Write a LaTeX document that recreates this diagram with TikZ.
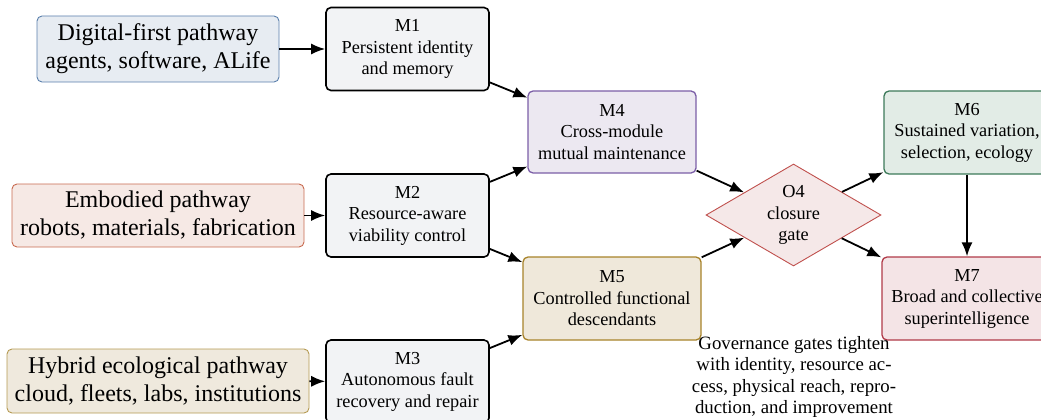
\documentclass[tikz,border=0pt]{standalone}
\usepackage{fontspec}
\setmainfont{Liberation Serif}
\usetikzlibrary{shapes.geometric,arrows.meta}
\definecolor{modfill}{HTML}{F2F3F5}
\definecolor{digfill}{HTML}{E7ECF2}\definecolor{digline}{HTML}{5B80AC}
\definecolor{embfill}{HTML}{F6E9E5}\definecolor{embline}{HTML}{C86A4F}
\definecolor{hybfill}{HTML}{EFE9DD}\definecolor{hybline}{HTML}{B59A52}
\definecolor{mfourfill}{HTML}{ECE8F1}\definecolor{mfourline}{HTML}{7B5EA7}
\definecolor{mfivefill}{HTML}{EFE8DA}\definecolor{mfiveline}{HTML}{A8832A}
\definecolor{gatefill}{HTML}{F5E8E8}\definecolor{gateline}{HTML}{C0504D}
\definecolor{msixfill}{HTML}{E2ECE6}\definecolor{msixline}{HTML}{3D7A5A}
\definecolor{msevenfill}{HTML}{F4E4E6}\definecolor{msevenline}{HTML}{B03A48}
\tikzset{
  pathbox/.style={draw, line width=0.9pt, rounded corners=5pt, align=center, inner sep=0pt,
    font=\fontsize{24}{28}\selectfont},
  modbox/.style={draw, line width=1.6pt, rounded corners=5pt, align=center, inner sep=0pt,
    minimum width=163pt, minimum height=83pt, fill=modfill, font=\fontsize{18.3}{21.5}\selectfont},
  colbox/.style={modbox, line width=1.3pt},
  gate/.style={draw=gateline, fill=gatefill, line width=0.9pt, shape=diamond, aspect=1.716,
    inner sep=0pt, minimum width=175pt, minimum height=102pt, align=center,
    font=\fontsize{18.3}{21.5}\selectfont},
  flow/.style={-{Latex[length=14pt,width=11pt]}, line width=1.8pt},
  note/.style={align=center, font=\fontsize{18.8}{21.3}\selectfont, inner sep=0pt}
}
\begin{document}
\begin{tikzpicture}[x=1pt,y=-1pt]
\useasboundingbox (0,0) rectangle (1041,420);
\begin{scope}
\clip (0,0) rectangle (1041,420);
% pathways
\node[pathbox, draw=digline, fill=digfill, minimum width=242pt, minimum height=66pt] (dig) at (158,49) {Digital-first pathway\\agents, software, ALife};
\node[pathbox, draw=embline, fill=embfill, minimum width=292pt, minimum height=63pt] (emb) at (158,215.5) {Embodied pathway\\robots, materials, fabrication};
\node[pathbox, draw=hybline, fill=hybfill, minimum width=302pt, minimum height=64pt] (hyb) at (158,381) {Hybrid ecological pathway\\cloud, fleets, labs, institutions};
% modules
\node[modbox] (m1) at (407.5,49) {M1\\Persistent identity\\and memory};
\node[modbox] (m2) at (407.5,215.5) {M2\\Resource-aware\\viability control};
\node[modbox] (m3) at (407.5,381.5) {M3\\Autonomous fault\\recovery and repair};
\node[colbox, draw=mfourline, fill=mfourfill, minimum width=168pt, minimum height=82pt] (m4) at (612,132) {M4\\Cross-module\\mutual maintenance};
\node[colbox, draw=mfiveline, fill=mfivefill, minimum width=178pt, minimum height=83pt] (m5) at (612,298.5) {M5\\Controlled functional\\descendants};
\node[gate] (o4) at (793.5,215) {O4\\closure\\gate};
\node[colbox, draw=msixline, fill=msixfill, minimum width=166pt, minimum height=83pt] (m6) at (967,132.5) {M6\\Sustained variation,\\selection, ecology};
\node[colbox, draw=msevenline, fill=msevenfill, minimum width=170pt, minimum height=83pt] (m7) at (967,298.5) {M7\\Broad and collective\\superintelligence};
\node[note] (gov) at (794,377) {Governance gates tighten\\with identity, resource ac-\\cess, physical reach, repro-\\duction, and improvement};
% connectors
\draw[flow] (dig) -- (m1);
\draw[flow] (emb) -- (m2);
\draw[flow] (hyb) -- (m3);
\draw[flow] (m1) -- (m4);
\draw[flow] (m2) -- (m4);
\draw[flow] (m2) -- (m5);
\draw[flow] (m3) -- (m5);
\draw[flow] (m4) -- (o4);
\draw[flow] (m5) -- (o4);
\draw[flow] (o4) -- (m6);
\draw[flow] (o4) -- (m7);
\draw[flow] (m6) -- (m7);
\end{scope}
\end{tikzpicture}
\end{document}
